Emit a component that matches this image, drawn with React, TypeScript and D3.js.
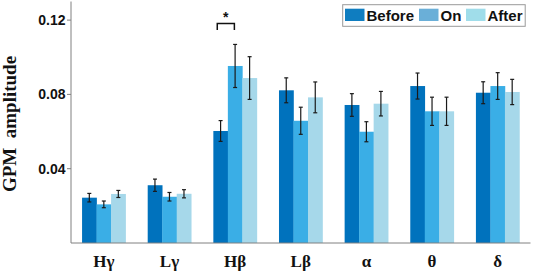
import React from "react";
import * as d3 from "d3";

const categories = ["Hγ", "Lγ", "Hβ", "Lβ", "α", "θ", "δ"];
const seriesNames = ["Before", "On", "After"];
const beforeVals = [0.0244, 0.0311, 0.0603, 0.0822, 0.0743, 0.0845, 0.0809];
const onVals = [0.0208, 0.0249, 0.0953, 0.0658, 0.0599, 0.0709, 0.0845];
const afterVals = [0.0264, 0.0265, 0.0888, 0.0784, 0.075, 0.0709, 0.0813];
const beforeErr = [0.0023, 0.0033, 0.0056, 0.0067, 0.0061, 0.007, 0.0059];
const onErr = [0.0018, 0.0023, 0.0116, 0.0073, 0.0054, 0.0076, 0.0072];
const afterErr = [0.0019, 0.0022, 0.0115, 0.0083, 0.0066, 0.0076, 0.0068];
const yTicks = [0.04, 0.08, 0.12];
const barColors = ["#0072BD", "#3AAEE6", "#A6D8EA"];
const legendColors = ["#0F7DC0", "#6AAFD8", "#A0DDEA"];

const W = 533;
const H = 273;
const left = 71;
const right = 530.5;
const bottom = 243;

export default function App() {
  const y = d3.scaleLinear().domain([0, 0.13]).range([bottom, bottom - 0.13 * 1857.5]);
  const x = d3.scaleBand<string>().domain(categories).range([left, right]).padding(0);
  const bw = x.bandwidth();
  const gw = bw * 0.663;
  const sub = d3
    .scaleBand<string>()
    .domain(seriesNames)
    .range([(bw - gw) / 2, (bw + gw) / 2])
    .padding(0);
  const sbw = sub.bandwidth();
  const vals = [beforeVals, onVals, afterVals];
  const errs = [beforeErr, onErr, afterErr];
  const axisColor = "#808080";
  const sans = "'Liberation Sans', Arial, sans-serif";
  const serif = "'Liberation Serif', 'Times New Roman', serif";

  const hb = "Hβ";
  const bx1 = (x(hb) as number) + (sub("Before") as number) + sbw * 0.27;
  const bx2 = (x(hb) as number) + (sub("On") as number) + sbw * 0.45;
  const by = y(0.1182);

  return (
    <div style={{ position: "absolute", left: 0, top: 0 }}>
      <svg width={W} height={H} style={{ display: "block", background: "#fff" }}>
        {/* bars */}
        {categories.map((c, i) => (
          <g key={c} transform={`translate(${x(c)},0)`}>
            {seriesNames.map((s, j) => {
              const v = vals[j][i];
              return (
                <rect
                  key={s}
                  x={sub(s)}
                  y={y(v)}
                  width={sbw + 0.3}
                  height={y(0) - y(v)}
                  fill={barColors[j]}
                />
              );
            })}
          </g>
        ))}
        {/* error bars */}
        {categories.map((c, i) => (
          <g key={c + "e"} transform={`translate(${x(c)},0)`}>
            {seriesNames.map((s, j) => {
              const v = vals[j][i];
              const e = errs[j][i];
              const cx = (sub(s) as number) + sbw / 2;
              const cw = 2;
              return (
                <g key={s} stroke="#1a1a1a" strokeWidth={1.2}>
                  <line x1={cx} x2={cx} y1={y(v + e)} y2={y(v - e)} />
                  <line x1={cx - cw} x2={cx + cw} y1={y(v + e)} y2={y(v + e)} />
                  <line x1={cx - cw} x2={cx + cw} y1={y(v - e)} y2={y(v - e)} />
                </g>
              );
            })}
          </g>
        ))}
        {/* axes */}
        <line x1={left} x2={left} y1={y(0.13)} y2={bottom} stroke={axisColor} strokeWidth={1} />
        <line x1={left} x2={right} y1={bottom} y2={bottom} stroke={axisColor} strokeWidth={1} />
        {yTicks.map((t) => (
          <g key={t}>
            <line x1={left - 4} x2={left} y1={y(t)} y2={y(t)} stroke={axisColor} strokeWidth={1} />
            <text
              x={left - 5.5}
              y={y(t)}
              dy="0.36em"
              textAnchor="end"
              fontFamily={sans}
              fontWeight="bold"
              fontSize={14}
              fill="#111"
            >
              {t.toFixed(2)}
            </text>
          </g>
        ))}
        {categories.map((c) => (
          <text
            key={c + "l"}
            x={(x(c) as number) + bw / 2}
            y={266.5}
            textAnchor="middle"
            fontFamily={serif}
            fontWeight="bold"
            fontSize={17}
            fill="#111"
          >
            {c}
          </text>
        ))}
        {/* y label */}
        <text
          transform={`translate(16,124) rotate(-90)`}
          textAnchor="middle"
          fontFamily={serif}
          fontWeight="bold"
          fontSize={19}
          fill="#111"
          style={{ whiteSpace: "pre" }}
        >
          {"GPM  amplitude"}
        </text>
        {/* significance bracket */}
        <path
          d={`M${bx1},${by + 6.5}V${by}H${bx2}V${by + 6.5}`}
          fill="none"
          stroke="#111"
          strokeWidth={1.5}
        />
        <text
          x={(bx1 + bx2) / 2}
          y={by - 1}
          textAnchor="middle"
          fontFamily={sans}
          fontWeight="bold"
          fontSize={14}
          fill="#111"
        >
          *
        </text>
        {/* legend */}
        <g>
          <rect x={342.7} y={4.7} width={182.5} height={21.6} fill="#fff" stroke="#999" strokeWidth={1} />
          {[
            { sx: 345, tx: 366.5 },
            { sx: 419, tx: 440.5 },
            { sx: 466, tx: 487.5 },
          ].map((p, j) => (
            <g key={j}>
              <rect x={p.sx} y={8.7} width={19.5} height={12.3} fill={legendColors[j]} />
              <text
                x={p.tx}
                y={21}
                fontFamily={sans}
                fontWeight="bold"
                fontSize={15}
                fill="#111"
              >
                {seriesNames[j]}
              </text>
            </g>
          ))}
        </g>
      </svg>
    </div>
  );
}
